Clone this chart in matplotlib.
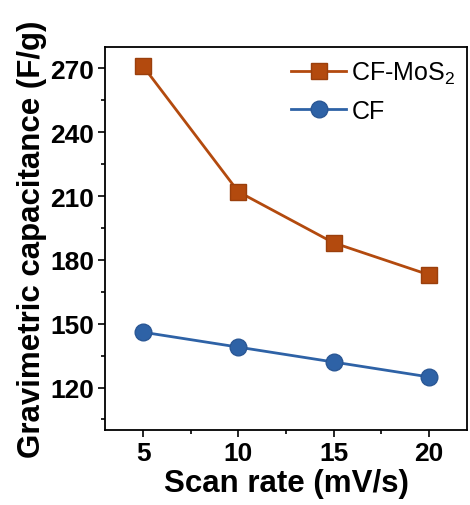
import matplotlib
matplotlib.use("Agg")
import matplotlib.pyplot as plt
from matplotlib.ticker import MultipleLocator

scan_rate = [5, 10, 15, 20]
cf_mos2 = [271, 212, 188, 173]
cf = [146, 139, 132, 125]
labels = ["CF-MoS$_2$", "CF"]
xlabel = "Scan rate (mV/s)"
ylabel = "Gravimetric capacitance (F/g)"

plt.rcParams['font.family'] = ['Liberation Sans', 'DejaVu Sans']
plt.rcParams['mathtext.fontset'] = 'custom'
plt.rcParams['mathtext.rm'] = 'Liberation Sans'

fig = plt.figure(figsize=(4.7, 5.06), dpi=100)
ax = fig.add_axes([0.2234, 0.148, 0.7702, 0.757])

c1 = '#B34A0E'
c2 = '#2E62A6'
ax.plot(scan_rate, cf_mos2, '-s', color=c1, lw=2, ms=11, mec='#9a3f0c', label=labels[0])
ax.plot(scan_rate, cf, '-o', color=c2, lw=2, ms=12, mec='#2a5795', label=labels[1])

ax.set_xlim(3, 22)
ax.set_ylim(100, 280)
ax.xaxis.set_major_locator(MultipleLocator(5))
ax.xaxis.set_minor_locator(MultipleLocator(2.5))
ax.yaxis.set_major_locator(MultipleLocator(30))
ax.yaxis.set_minor_locator(MultipleLocator(15))
ax.set_xticks([5, 10, 15, 20])
ax.tick_params(which='major', direction='out', length=5, width=1.2, labelsize=19, pad=3)
ax.tick_params(which='minor', direction='out', length=3, width=1.2)
for t in ax.get_xticklabels() + ax.get_yticklabels():
    t.set_fontweight('bold')
for s in ax.spines.values():
    s.set_linewidth(1.3)

ax.set_xlabel(xlabel, fontsize=22.5, fontweight='bold', labelpad=2)
ax.set_ylabel(ylabel, fontsize=22.5, fontweight='bold', labelpad=2)

leg = ax.legend(loc='upper right', frameon=False, fontsize=18, handlelength=2.2,
                handletextpad=0.2, labelspacing=0.5, borderaxespad=0.2,
                bbox_to_anchor=(1.01, 1.005))

fig.savefig('out.png', dpi=100)
